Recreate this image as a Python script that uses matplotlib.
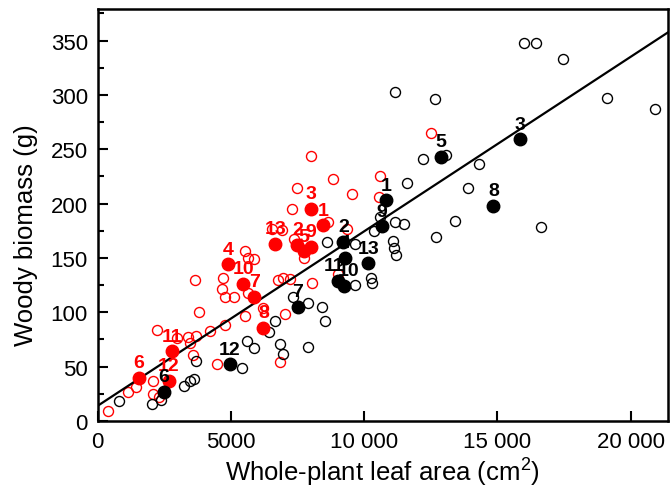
import matplotlib
matplotlib.use('Agg')
import matplotlib.pyplot as plt
from matplotlib.ticker import MultipleLocator

plt.rcParams['font.family'] = ['Liberation Sans', 'DejaVu Sans']
plt.rcParams['mathtext.default'] = 'regular'

# labelled plants (filled markers), leaf area cm2 / woody biomass g
red_lab = ['1', '2', '3', '4', '5', '6', '7', '8', '9', '10', '11', '12', '13']
red_x = [8460, 7490, 8000, 4890, 7740, 1540, 5880, 6220, 8000, 5460, 2790, 2670, 6670]
red_y = [180, 162, 195, 144, 156, 40, 114, 86, 160, 126, 64, 37, 163]

blk_lab = ['1', '2', '3', '4', '5', '6', '7', '8', '9', '10', '11', '12', '13']
blk_x = [10820, 9220, 15830, 9290, 12890, 2490, 7500, 14850, 10670, 9250, 9030, 4960, 10160]
blk_y = [203, 165, 259, 150, 243, 27, 105, 198, 179, 124, 129, 52, 145]

# other plants (open markers)
red_open_x = [390, 1150, 1440, 2080, 2080, 2300, 2220, 2960, 3370, 3450, 3680, 3570,
              3650, 3790, 4200, 4470, 4770, 4700, 4650, 4760, 5100, 5530, 5640, 5850,
              5630, 5530, 6190, 6770, 6940, 7220, 7030, 6850, 6540, 6900, 8000, 8820,
              7460, 7290, 9550, 8660, 7380, 7740, 9370, 8030, 9000, 10600, 10550, 12520]
red_open_y = [9, 27, 31, 37, 25, 22, 84, 76, 77, 72, 78, 61,
              130, 100, 83, 52, 88, 132, 121, 114, 114, 156, 150, 149,
              118, 97, 104, 130, 132, 131, 98, 54, 177, 176, 244, 223,
              214, 195, 209, 183, 167, 150, 177, 127, 135, 225, 206, 265]

blk_open_x = [800, 2030, 2380, 3240, 3460, 3620, 3680, 5590, 5850, 5410, 6650, 6430,
              6840, 6940, 7880, 8400, 8530, 7900, 7320, 8620, 9670, 9650, 10250, 10290,
              11100, 11130, 11200, 11140, 11490, 10360, 12680, 13410, 11150, 12660, 12190,
              13070, 11600, 13900, 14320, 10580, 15990, 16450, 17450, 19100, 20930, 16640]
blk_open_y = [18, 16, 19, 32, 37, 39, 55, 74, 67, 49, 92, 82,
              71, 62, 68, 105, 92, 109, 114, 165, 163, 125, 132, 127,
              166, 159, 153, 183, 181, 175, 169, 184, 303, 296, 241,
              245, 219, 214, 236, 188, 348, 348, 333, 297, 287, 178]

# fitted line
fit_a = 14.0
fit_b = 0.01605

xmax = 21400

fig = plt.figure(figsize=(6.72, 4.89), dpi=100)
ax = fig.add_axes([0.1454, 0.137, 0.994 - 0.1454, 0.9796 - 0.137])

ax.plot(red_open_x, red_open_y, 'o', ms=7.2, mfc='none', mec='#ff0000', mew=1.0, zorder=2)
ax.plot(blk_open_x, blk_open_y, 'o', ms=7.2, mfc='none', mec='black', mew=1.0, zorder=2)

ax.plot([0, xmax], [fit_a, fit_a + fit_b * xmax], color='black', lw=1.6, zorder=3)

ax.plot(red_x, red_y, 'o', ms=9, color='#ff0000', zorder=4)
ax.plot(blk_x, blk_y, 'o', ms=9, color='black', zorder=4)

dx_red = {}
dx_blk = {'11': -3, '10': 3}
for lab, x, y in zip(red_lab, red_x, red_y):
    ax.annotate(lab, (x, y), xytext=(dx_red.get(lab, 0), 11), textcoords='offset points',
                ha='center', va='center', fontsize=14, fontweight='bold', color='#ff0000', zorder=5)
for lab, x, y in zip(blk_lab, blk_x, blk_y):
    ax.annotate(lab, (x, y), xytext=(dx_blk.get(lab, 0), 11), textcoords='offset points',
                ha='center', va='center', fontsize=14, fontweight='bold', color='black', zorder=5)

ax.set_xlim(0, xmax)
ax.set_ylim(0, 379)
ax.set_xticks([0, 5000, 10000, 15000, 20000])
ax.set_xticklabels(['0', '5000', '10 000', '15 000', '20 000'])
ax.yaxis.set_major_locator(MultipleLocator(50))
ax.yaxis.set_minor_locator(MultipleLocator(25))

ax.tick_params(axis='both', which='major', direction='in', length=7, width=1.5, labelsize=16)
ax.tick_params(axis='y', which='major', pad=7)
ax.tick_params(axis='x', which='major', pad=7)
ax.tick_params(axis='y', which='minor', direction='in', length=4, width=1.5)
for s in ax.spines.values():
    s.set_linewidth(1.8)

ax.set_xlabel('Whole-plant leaf area (cm$^{2}$)', fontsize=18.5, labelpad=3)
ax.set_ylabel('Woody biomass (g)', fontsize=18.5)
ax.yaxis.set_label_coords(-0.105, 0.454)

fig.savefig('out.png', dpi=100)
